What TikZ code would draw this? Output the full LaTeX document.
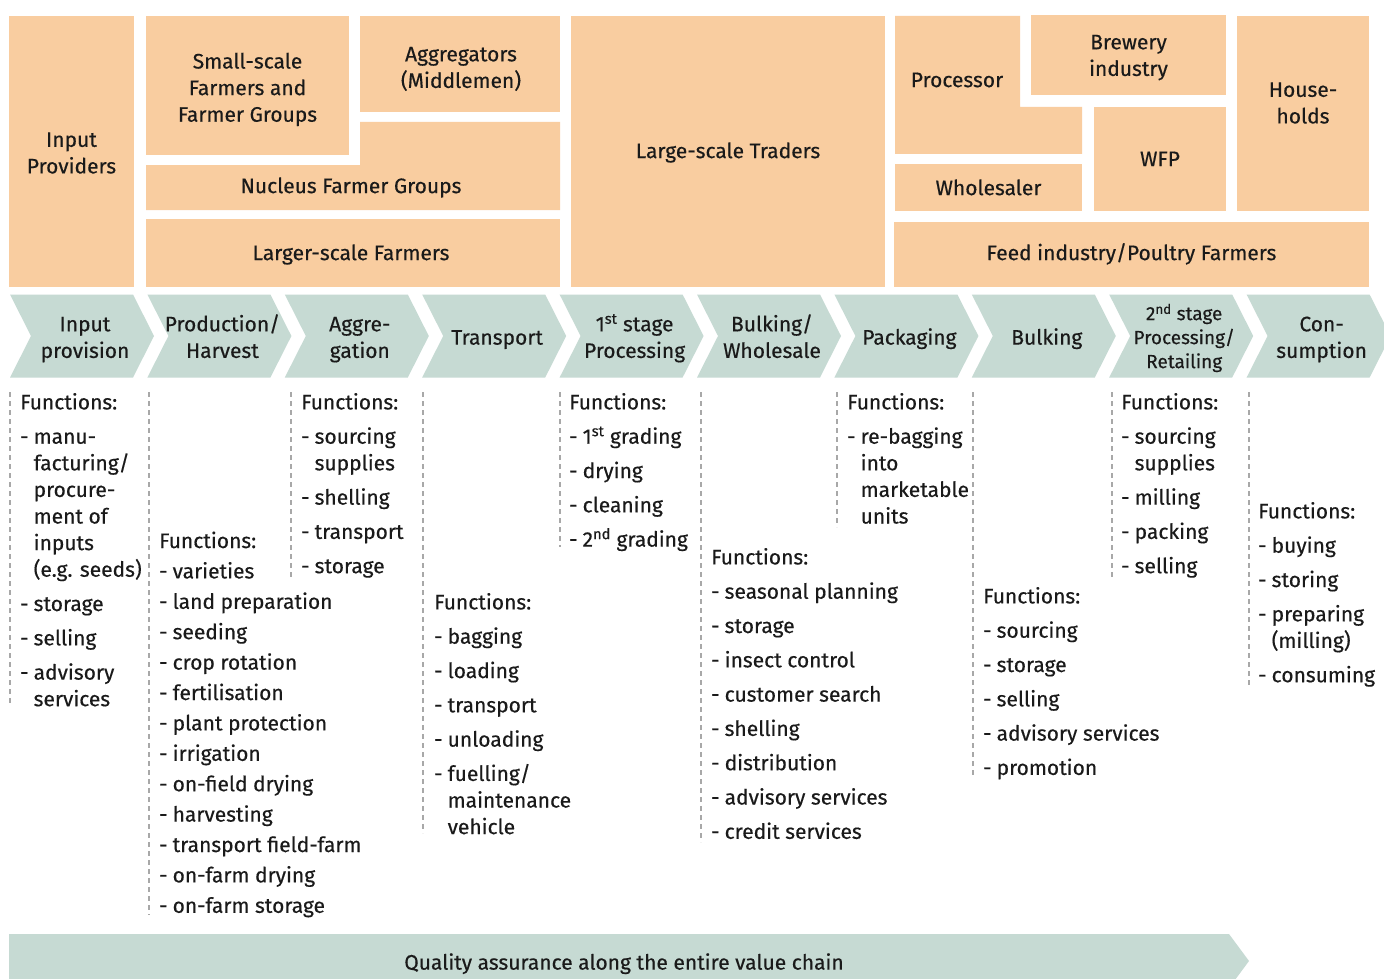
\documentclass[tikz,border=0pt]{standalone}
\usepackage{fontspec}
\setmainfont{Fira Sans}[UprightFeatures={FakeBold=0.4}]
\usepackage{array}
\definecolor{peach}{HTML}{F9CDA0}
\definecolor{sage}{HTML}{C6DAD3}
\definecolor{ink}{HTML}{1A1A1A}
\definecolor{dashgray}{HTML}{A8A8A8}
\newcommand\mainsize{\fontsize{21}{26.6}\selectfont}
\newcommand\smallersize{\fontsize{19}{24}\selectfont}
\newcommand\fhead{\multicolumn{2}{@{}l@{}}{Functions:}}
\newcommand\ngap{\\[7.7pt]}
\newcommand\tgap{\\[3.8pt]}
\newcommand\sq{\strut}
\newenvironment{flist}{\begin{tabular}{@{}l@{\hspace{5pt}}l@{}}}{\end{tabular}}
\begin{document}
\begin{tikzpicture}[x=1pt,y=-1pt,
  box/.style={fill=peach},
  lbl/.style={text=ink, font=\mainsize, align=center, inner sep=0pt, yshift=-1.8pt},
  chev/.style={fill=sage},
  fun/.style={anchor=north west, inner sep=0pt, text=ink, font=\mainsize},
  vline/.style={draw=dashgray, line width=1.3pt, dash pattern=on 5pt off 4pt}]
\useasboundingbox (0,0) rectangle (1384,979);
\clip (0,0) rectangle (1384,979);
\fill[white] (0,0) rectangle (1384,979);

% ---- actor boxes
\fill[box] (9,16) rectangle (134,287);
\node[lbl] (ip) at (71.5,153) {\sq Input\\\sq Providers};
\fill[box] (146,16) rectangle (349,155);
\node[lbl] (ss) at (247.5,88) {\sq Small-scale\\\sq Farmers and\\\sq Farmer Groups};
\fill[box] (360,16) rectangle (560,112);
\node[lbl] (ag) at (461,67.5) {\sq Aggregators\\\sq (Middlemen)};
\fill[box] (146,165) -- (360,165) -- (360,122) -- (560,122) -- (560,210) -- (146,210) -- cycle;
\node[lbl] (nf) at (351,186) {\sq Nucleus Farmer Groups};
\fill[box] (146,219) rectangle (560,287);
\node[lbl] (lf) at (351,253) {\sq Larger-scale Farmers};
\fill[box] (571,16) rectangle (885,287);
\node[lbl] (lt) at (728,151) {\sq Large-scale Traders};
\fill[box] (895,16) -- (1020,16) -- (1020,107) -- (1082,107) -- (1082,154) -- (895,154) -- cycle;
\node[lbl] (pr) at (957,80) {\sq Processor};
\fill[box] (1031,15) rectangle (1226,95);
\node[lbl] (br) at (1128.5,55.5) {\sq Brewery\\\sq industry};
\fill[box] (895,164) rectangle (1082,211);
\node[lbl] (wh) at (988.5,188) {\sq Wholesaler};
\fill[box] (1094,107) rectangle (1226,211);
\node[lbl] (wfp) at (1160,159) {\sq WFP};
\fill[box] (1237,16) rectangle (1369,211);
\node[lbl] (hh) at (1303,103) {\sq House-\\\sq holds};
\fill[box] (894,222) rectangle (1369,287);
\node[lbl] (fd) at (1131.5,253) {\sq Feed industry/Poultry Farmers};

% ---- value chain stages
\foreach \i in {0,...,9}{
  \pgfmathsetmacro\L{10+137.4*\i}
  \fill[chev] (\L,294.5) -- ++(123,0) -- ++(21,41.5) -- ++(-21,41.5) -- ++(-123,0) -- ++(21,-41.5) -- cycle;
  \coordinate (k\i) at (\L+75,337.5);
}
\node[lbl] (c0) at (k0) {\sq Input\\\sq provision};
\node[lbl] (c1) at (k1) {\sq Production/\\\sq Harvest};
\node[lbl] (c2) at (k2) {\sq Aggre-\\\sq gation};
\node[lbl] (c3) at (k3) {\sq Transport};
\node[lbl] (c4) at (k4) {\sq 1\textsuperscript{st} stage\\\sq Processing};
\node[lbl] (c5) at (k5) {\sq Bulking/\\\sq Wholesale};
\node[lbl] (c6) at (k6) {\sq Packaging};
\node[lbl] (c7) at (k7) {\sq Bulking};
\node[lbl, font=\smallersize] (c8) at (k8) {\sq 2\textsuperscript{nd} stage\\\sq Processing/\\\sq Retailing};
\node[lbl] (c9) at (k9) {\sq Con-\\\sq sumption};

% ---- quality assurance bar
\fill[chev] (9,934) -- (1229,934) -- (1249,961) -- (1229,988) -- (9,988) -- cycle;
\node[lbl] (qa) at (624,962.5) {\sq Quality assurance along the entire value chain};

% ---- function lists
\draw[vline] (10,392) -- (10,706);
\node[fun] (f1) at (20,390.6) {\begin{flist}\fhead\ngap
 - & manu-\\ & facturing/\\ & procure-\\ & ment of\\ & inputs\\ & (e.g. seeds)\ngap
 - & storage\ngap - & selling\ngap - & advisory\\ & services\end{flist}};

\draw[vline] (149,392) -- (149,915);
\node[fun] (f2) at (159,529.2) {\begin{flist}\fhead\tgap
 - & varieties\tgap - & land preparation\tgap - & seeding\tgap - & crop rotation\tgap
 - & fertilisation\tgap - & plant protection\tgap - & irrigation\tgap - & on-field drying\tgap
 - & harvesting\tgap - & transport field-farm\tgap - & on-farm drying\tgap - & on-farm storage\end{flist}};

\draw[vline] (291,392) -- (291,578);
\node[fun] (f3) at (301,390.6) {\begin{flist}\fhead\ngap
 - & sourcing\\ & supplies\ngap - & shelling\ngap - & transport\ngap - & storage\end{flist}};

\draw[vline] (423,392) -- (423,833);
\node[fun] (f4) at (434,590.6) {\begin{flist}\fhead\ngap
 - & bagging\ngap - & loading\ngap - & transport\ngap - & unloading\ngap
 - & fuelling/\\ & maintenance\\ & vehicle\end{flist}};

\draw[vline] (560,392) -- (560,547);
\node[fun] (f5) at (569,390.6) {\begin{flist}\fhead\ngap
 - & 1\textsuperscript{st} grading\ngap - & drying\ngap - & cleaning\ngap - & 2\textsuperscript{nd} grading\end{flist}};

\draw[vline] (701,392) -- (701,842);
\node[fun] (f6) at (711,545.6) {\begin{flist}\fhead\ngap
 - & seasonal planning\ngap - & storage\ngap - & insect control\ngap - & customer search\ngap
 - & shelling\ngap - & distribution\ngap - & advisory services\ngap - & credit services\end{flist}};

\draw[vline] (837,392) -- (837,527);
\node[fun] (f7) at (847,390.6) {\begin{flist}\fhead\ngap
 - & re-bagging\\ & into\\ & marketable\\ & units\end{flist}};

\draw[vline] (973,392) -- (973,778);
\node[fun] (f8) at (983,584.6) {\begin{flist}\fhead\ngap
 - & sourcing\ngap - & storage\ngap - & selling\ngap - & advisory services\ngap - & promotion\end{flist}};

\draw[vline] (1112,392) -- (1112,578);
\node[fun] (f9) at (1121,390.6) {\begin{flist}\fhead\ngap
 - & sourcing\\ & supplies\ngap - & milling\ngap - & packing\ngap - & selling\end{flist}};

\draw[vline] (1249,392) -- (1249,687);
\node[fun] (f10) at (1258,499.6) {\begin{flist}\fhead\ngap
 - & buying\ngap - & storing\ngap - & preparing\\ & (milling)\ngap - & consuming\end{flist}};
\end{tikzpicture}
\end{document}
